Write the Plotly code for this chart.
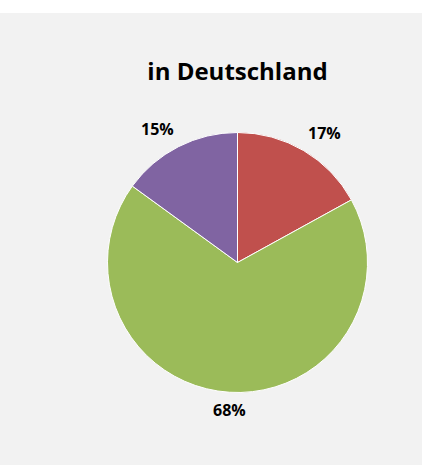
import math
import plotly.graph_objects as go

W, H = 422, 465

labels = ["Rot", "Grün", "Lila"]
werte = [17, 68, 15]
farben = ["#C0504D", "#9BBB59", "#8064A2"]

# pie geometry in pixels (centre and radius)
cx, cy, r = 237.5, 262.5, 130

fig = go.Figure()
fig.add_trace(go.Pie(
    labels=labels, values=werte, sort=False, direction="clockwise", rotation=0,
    marker=dict(colors=farben, line=dict(color="#ffffff", width=1)),
    textinfo="none", showlegend=False, hoverinfo="label+percent",
    domain=dict(x=[(cx - r) / W, (cx + r) / W], y=[(H - cy - r) / H, (H - cy + r) / H]),
))

# percentage labels outside the slices, Excel style
summe = sum(werte)
annots = []
acc = 0
for v in werte:
    mid = 2 * math.pi * (acc + v / 2) / summe
    acc += v
    s, c = math.sin(mid), math.cos(mid)
    px = cx + (r + 5) * s
    py = cy - (r + 5) * c
    xa = "center" if abs(s) < 0.3 else ("left" if s > 0 else "right")
    ya = "middle" if abs(c) < 0.3 else ("bottom" if c > 0 else "top")
    annots.append(dict(x=px / W, y=1 - py / H, xref="paper", yref="paper",
                       text=f"<b>{round(100 * v / summe)}%</b>", showarrow=False,
                       xanchor=xa, yanchor=ya,
                       font=dict(family="Open Sans", size=16, color="#000000")))

fig.update_layout(
    width=W, height=H,
    margin=dict(l=0, r=0, t=0, b=0),
    paper_bgcolor="#f2f2f2",
    title=dict(text="<b>in Deutschland</b>", x=cx / W, xanchor="center",
               y=1 - 72 / H, yanchor="middle",
               font=dict(family="Open Sans", size=24, color="#000000")),
    annotations=annots,
    shapes=[dict(type="rect", xref="paper", yref="paper", x0=0, x1=1,
                 y0=1 - 13 / H, y1=1, fillcolor="#ffffff", line=dict(width=0), layer="below")],
)

fig.write_html("out.html", config={"displayModeBar": False},
               post_script="document.body.style.margin='0';document.body.style.overflow='hidden';")
